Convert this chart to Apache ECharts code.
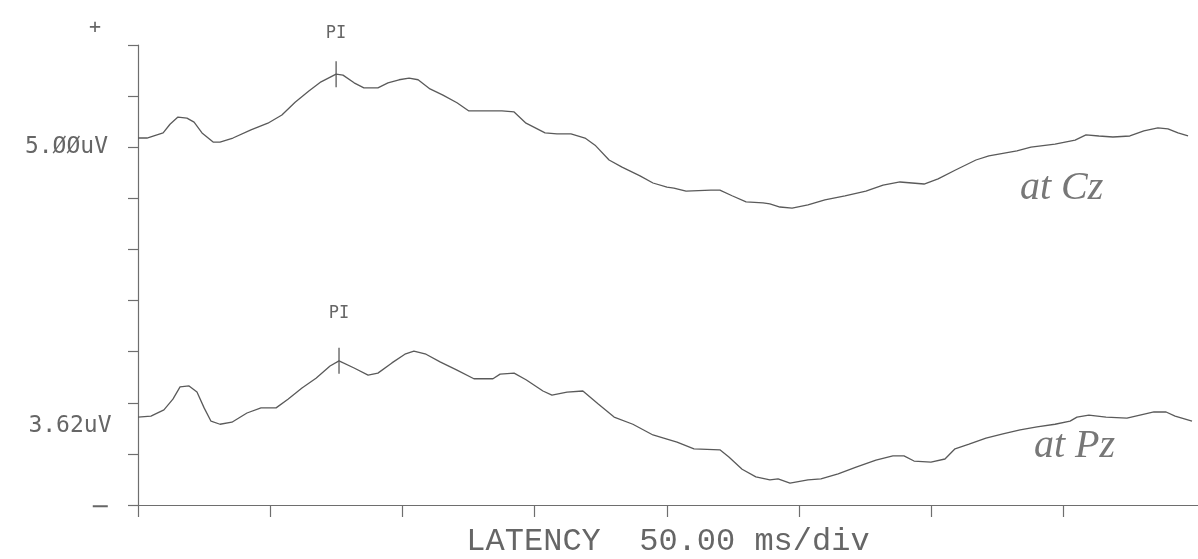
<!DOCTYPE html>
<html><head><meta charset="utf-8">
<script src="https://cdn.jsdelivr.net/npm/echarts@6/dist/echarts.min.js"></script>
<style>html,body{margin:0;padding:0;background:#fff}#c{width:1198px;height:559px}</style>
</head><body><div id="c"></div>
<script>
// Latency in ms, amplitude in vertical divisions
const czTime = [0,3.4,9.5,12.1,15.1,18.5,21.2,24.2,28.4,31.0,35.9,42.7,49.1,54.4,59.4,64.6,69.2,74.9,77.5,81.7,85.4,90.7,94.5,98.7,102.5,105.9,110.4,115.3,120.6,125.1,131.2,137.6,142.2,146.7,153.9,158.4,163.7,169.0,172.8,178.1,183.0,189.8,194.7,200.0,202.6,207.2,216.6,220.0,224.6,229.9,236.3,238.9,242.7,247.3,253.3,259.7,267.3,275.2,281.7,288.1,297.2,302.5,308.9,316.8,321.7,332.3,337.6,346.7,354.3,358.4,363.3,368.6,375.0,380.3,385.6,389.4,393.2,397.0];
const czValues = [7.18,7.18,7.28,7.45,7.59,7.57,7.49,7.28,7.10,7.10,7.18,7.34,7.47,7.63,7.88,8.10,8.28,8.43,8.41,8.26,8.16,8.16,8.26,8.32,8.35,8.32,8.14,8.02,7.87,7.71,7.71,7.71,7.69,7.47,7.28,7.26,7.26,7.18,7.04,6.75,6.61,6.44,6.30,6.22,6.20,6.14,6.16,6.16,6.05,5.93,5.91,5.89,5.83,5.81,5.87,5.97,6.05,6.14,6.26,6.32,6.28,6.38,6.55,6.75,6.83,6.93,7.00,7.06,7.14,7.24,7.22,7.20,7.22,7.32,7.38,7.36,7.28,7.22];
const pzTime = [0,4.9,9.8,13.2,15.9,19.3,22.3,25.0,27.6,31.0,35.5,41.2,46.5,52.2,56.7,62.0,67.3,72.6,76.0,81.7,87.0,90.7,96.0,100.9,104.3,108.9,114.2,120.6,127.0,134.2,136.9,142.2,146.7,153.1,156.5,162.2,168.2,173.9,180.0,187.1,194.7,200.0,203.8,210.2,220.0,223.4,228.4,233.6,238.9,242.0,246.5,253.3,258.2,264.7,271.5,279.0,285.4,289.6,293.4,299.8,305.1,308.9,314.2,320.6,327.0,333.5,339.9,346.7,352.4,355.0,359.5,366.0,373.9,378.8,384.1,388.7,392.1,398.5];
const pzValues = [1.72,1.74,1.86,2.07,2.31,2.33,2.21,1.90,1.64,1.58,1.62,1.80,1.90,1.90,2.07,2.29,2.48,2.72,2.82,2.68,2.54,2.58,2.78,2.95,3.01,2.95,2.80,2.64,2.47,2.47,2.56,2.58,2.45,2.23,2.15,2.21,2.23,1.98,1.72,1.58,1.37,1.29,1.23,1.10,1.08,0.94,0.70,0.55,0.49,0.51,0.43,0.49,0.51,0.61,0.74,0.88,0.96,0.96,0.86,0.84,0.90,1.10,1.19,1.31,1.39,1.47,1.53,1.58,1.64,1.72,1.76,1.72,1.70,1.76,1.82,1.82,1.74,1.64];
const xTicks = [0,50,100,150,200,250,300,350];
const czP1 = [74.9, 8.43];
const pzP1 = [76.0, 2.82];
const czScaleLabel = '5.ØØuV';
const czScaleValue = 7;
const pzScaleLabel = '3.62uV';
const pzScaleValue = 1.64;
const p1Label = 'PI';
const xTitle = 'LATENCY  50.00 ms/div';
const czName = 'at Cz';
const pzName = 'at Pz';

const ink = '#5a5a5a';
const axisInk = '#6e6e6e';
const textInk = '#666';

function pairs(t, v) { return t.map((x, i) => [x, v[i]]); }
function p1Mark(coord, dist) {
  return {
    symbol: 'rect', symbolSize: [1.3, 26], silent: true,
    itemStyle: { color: ink },
    label: { show: true, position: 'top', distance: dist, formatter: p1Label,
      fontFamily: 'DejaVu Sans Mono', fontSize: 17, color: textInk },
    data: [{ coord: coord }]
  };
}

const chart = echarts.init(document.getElementById('c'), null, { renderer: 'canvas' });
chart.setOption({
  animation: false,
  backgroundColor: '#fff',
  grid: { left: 138, right: 0, top: 45, bottom: 54, containLabel: false, outerBoundsMode: 'none' },
  xAxis: {
    type: 'value', min: 0, max: 400.76,
    axisLine: { show: true, lineStyle: { color: axisInk, width: 1.2 } },
    axisTick: { show: true, inside: false, length: 12, customValues: xTicks, lineStyle: { color: axisInk, width: 1.2 } },
    axisLabel: { show: false },
    splitLine: { show: false },
    name: xTitle, nameLocation: 'middle', nameGap: 21,
    nameTextStyle: { fontFamily: 'Liberation Mono, Courier New, monospace', fontSize: 32, color: textInk }
  },
  yAxis: {
    type: 'value', min: 0, max: 9, interval: 1,
    axisLine: { show: true, lineStyle: { color: axisInk, width: 1.2 } },
    axisTick: { show: true, inside: false, length: 10, lineStyle: { color: axisInk, width: 1.2 } },
    axisLabel: { show: true, margin: 30, fontFamily: 'DejaVu Sans Mono', fontSize: 23, color: textInk,
      padding: [6, 0, 0, 0],
      formatter: v => (v === czScaleValue ? czScaleLabel : '') },
    splitLine: { show: false }
  },
  series: [
    { type: 'line', name: czName, data: pairs(czTime, czValues), showSymbol: false, symbol: 'none',
      lineStyle: { color: ink, width: 1.3 }, markPoint: p1Mark(czP1, 19) },
    { type: 'line', name: pzName, data: pairs(pzTime, pzValues), showSymbol: false, symbol: 'none',
      lineStyle: { color: ink, width: 1.3 }, markPoint: p1Mark(pzP1, 26) },
    { type: 'line', data: [], markPoint: {
        symbol: 'rect', symbolSize: 1, itemStyle: { color: 'rgba(0,0,0,0)' }, silent: true,
        label: { show: true, position: 'left', distance: 26, offset: [0, 5], formatter: pzScaleLabel,
          fontFamily: 'DejaVu Sans Mono', fontSize: 23, color: textInk },
        data: [{ coord: [0, pzScaleValue] }] } }
  ],
  graphic: [
    { type: 'text', left: 89, top: 18, style: { text: '+', fontFamily: 'DejaVu Sans Mono', fontSize: 20, fill: textInk } },
    { type: 'text', left: 90, top: 496, style: { text: '−', fontFamily: 'DejaVu Sans', fontSize: 24, fill: textInk } },
    { type: 'text', left: 1020, top: 168, style: { text: czName, fontFamily: 'Liberation Serif', fontStyle: 'italic', fontSize: 40, fill: '#777' } },
    { type: 'text', left: 1034, top: 426, style: { text: pzName, fontFamily: 'Liberation Serif', fontStyle: 'italic', fontSize: 40, fill: '#777' } }
  ]
});
</script></body></html>
